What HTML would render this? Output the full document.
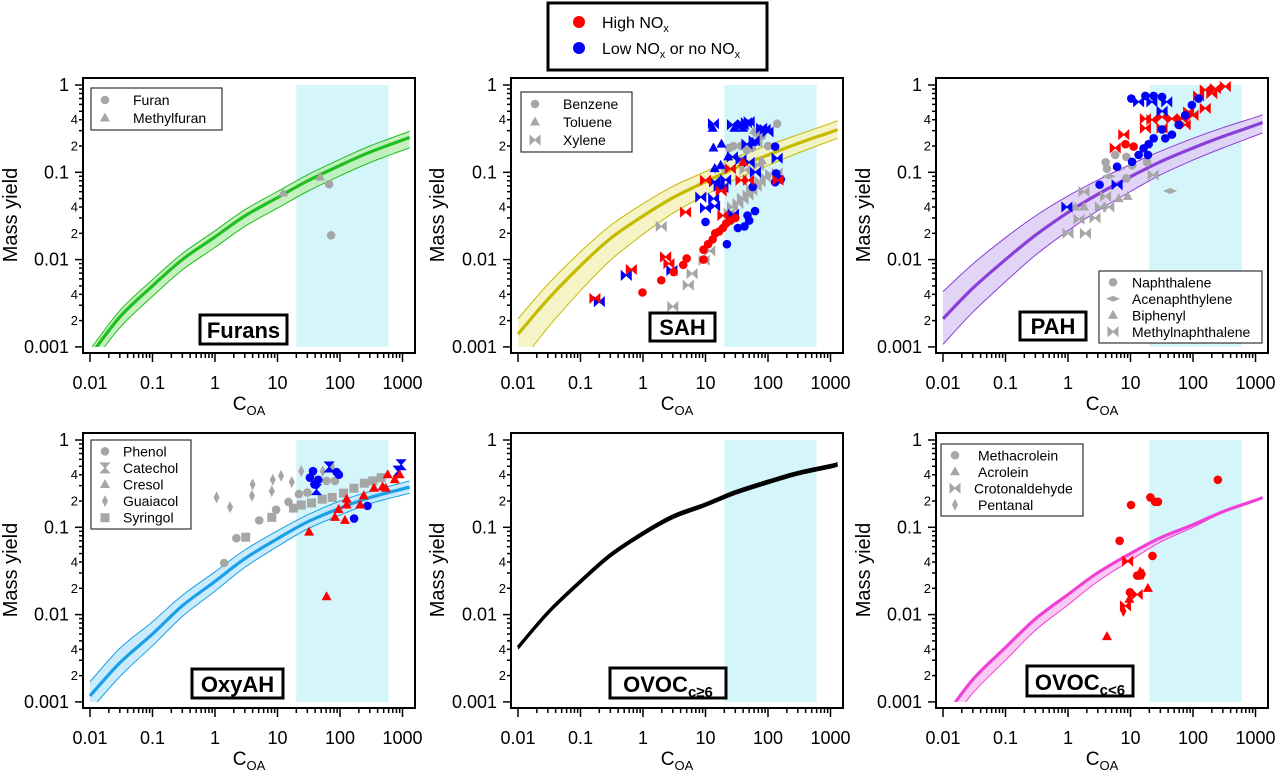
<!DOCTYPE html>
<html><head><meta charset="utf-8"><style>
html,body{margin:0;padding:0;background:#fff;}
svg{display:block;font-family:"Liberation Sans",Arial,sans-serif;}
</style></head><body>
<svg id="chart" width="1278" height="771" viewBox="0 0 1278 771" xmlns="http://www.w3.org/2000/svg">
<g>
<rect x="548" y="3" width="219" height="67" fill="#fff" stroke="#000" stroke-width="3"/>
<circle cx="579" cy="22" r="6" fill="#f00"/>
<text x="602" y="28" font-size="16">High NO<tspan font-size="11" dy="4">x</tspan></text>
<circle cx="579" cy="48" r="6" fill="#00f"/>
<text x="602" y="54" font-size="16">Low NO<tspan font-size="11" dy="4">x</tspan><tspan dy="-4"> or no NO</tspan><tspan font-size="11" dy="4">x</tspan></text>
</g>
</svg>
<script>
// ---- data ----
const curveC = [0.01,0.03,0.1,0.3,1,3,10,30,100,300,1000,1300];
const furanMid = [0.00079,0.0022,0.005,0.01,0.0182,0.0316,0.0513,0.0794,0.12,0.17,0.234,0.251];
const furanLo  = [0.0006,0.00166,0.0038,0.0076,0.0138,0.024,0.0389,0.0603,0.0912,0.129,0.178,0.19];
const furanHi  = [0.00093,0.0026,0.0059,0.0117,0.0214,0.0372,0.0603,0.0933,0.141,0.2,0.275,0.295];
const sahMid = [0.0014,0.0035,0.0085,0.0174,0.0316,0.051,0.078,0.112,0.158,0.214,0.288,0.309];
const sahLo  = [0.0006,0.00166,0.0044,0.0098,0.0195,0.0339,0.055,0.083,0.12,0.166,0.229,0.245];
const sahHi  = [0.0021,0.0052,0.0123,0.0245,0.0437,0.069,0.102,0.148,0.204,0.269,0.363,0.389];
const pahMid = [0.0021,0.0047,0.01,0.019,0.0347,0.056,0.089,0.132,0.19,0.257,0.347,0.372];
const pahLo  = [0.00107,0.0025,0.0056,0.0112,0.0214,0.0363,0.0603,0.0933,0.138,0.19,0.263,0.282];
const pahHi  = [0.0043,0.0089,0.0178,0.0316,0.0537,0.0813,0.123,0.174,0.245,0.324,0.427,0.457];
const oxyMid = [0.00117,0.0028,0.006,0.0126,0.024,0.0437,0.074,0.115,0.166,0.219,0.275,0.288];
const oxyLo  = [0.0008,0.00195,0.0044,0.0095,0.0186,0.0347,0.0603,0.0955,0.138,0.186,0.234,0.245];
const oxyHi  = [0.0017,0.0041,0.0083,0.0166,0.0309,0.055,0.0912,0.138,0.2,0.257,0.324,0.339];
const ovoc6Mid = [0.0042,0.0105,0.024,0.0479,0.0851,0.132,0.182,0.251,0.331,0.417,0.501,0.525];
const ovoc6Lo  = [0.004,0.01,0.0228,0.0455,0.081,0.125,0.173,0.238,0.314,0.396,0.476,0.5];
const ovoc6Hi  = [0.0044,0.011,0.0252,0.0503,0.0894,0.139,0.191,0.264,0.348,0.438,0.526,0.551];
const ovocMid = [0.00063,0.0018,0.0042,0.0089,0.017,0.0302,0.0501,0.0759,0.107,0.151,0.204,0.219];
const ovocLo  = [0.00045,0.00126,0.003,0.0066,0.0129,0.024,0.0417,0.0676,0.1,0.148,0.204,0.219];
const ovocHi  = [0.00063,0.0018,0.0042,0.0089,0.017,0.0302,0.0501,0.0759,0.107,0.151,0.204,0.219];
const bandRange = [20, 600];
const xTickVals = [0.01,0.1,1,10,100,1000];
const xTickLabels = ["0.01","0.1","1","10","100","1000"];
const yTickVals = [1,0.1,0.01,0.001];
const yTickLabels = ["1","0.1","0.01","0.001"];

// points: [C, Y]
const furanCircle = [[67,0.073],[72,0.019]];
const furanTri = [[12.3,0.058],[48,0.088]];

const sahRedCircle = [[0.98,0.0042],[1.96,0.0058],[3.1,0.0072],[4.4,0.0087],[5.0,0.0103],[9.3,0.013],[9.3,0.01],[11,0.015],[13,0.017],[14.3,0.02],[16.5,0.021],[19,0.023],[21.4,0.026],[25,0.028],[30,0.03]];
const sahRedBow = [[0.17,0.0036],[0.65,0.0077],[2.6,0.009],[4.8,0.035],[25,0.11],[10,0.081],[17.8,0.061],[37,0.081],[49,0.081],[145,0.081],[19,0.032],[2.3,0.0107]];
const sahRedTri = [[40,0.13]];
const sahBlueCircle = [[10,0.027],[22,0.015],[33,0.023],[42,0.024],[50,0.028],[47,0.032],[62,0.036],[57,0.068],[130,0.077],[160,0.083],[130,0.197],[135,0.097]];
const sahBlueBow = [[0.2,0.0033],[0.54,0.0066],[2.9,0.0075],[2.3,0.0107],[13.4,0.36],[27,0.35],[40,0.35],[45,0.37],[50,0.38],[79,0.32],[90,0.31],[100,0.29],[60,0.23],[46,0.21],[37,0.14],[50,0.13],[63,0.1],[27,0.15],[8.4,0.052],[10,0.039],[14,0.041],[14,0.078],[16.5,0.069],[19,0.067],[21,0.082],[13.5,0.05],[140,0.145],[28,0.033]];
const sahBlueTri = [[13,0.32],[13.4,0.19],[18,0.21],[29,0.32],[40,0.32],[14,0.11],[17.5,0.12],[23,0.15],[57,0.22]];
const sahGreyCircle = [[140,0.36],[24,0.19],[28,0.2],[37,0.2],[46,0.18],[55,0.19],[65,0.28],[80,0.26],[100,0.2]];
const sahGreyTri = [[37,0.137],[80,0.135],[60,0.3]];
const sahGreyBow = [[1.96,0.024],[6.1,0.0069],[5.3,0.0051],[3.0,0.0029],[9.5,0.0098],[11.7,0.0126],[24,0.034],[27,0.04],[33,0.044],[40,0.05],[48,0.055],[55,0.062],[65,0.069],[75,0.078],[90,0.088],[110,0.095],[140,0.098],[39,0.05],[17,0.11],[43,0.107],[70,0.12],[66,0.22]];

const pahBlueCircle = [[10.3,0.70],[17.3,0.75],[23.5,0.75],[32,0.73],[36,0.245],[46,0.27],[59,0.35],[75,0.45],[96,0.59],[123,0.70],[32,0.31],[23.5,0.245],[19.5,0.21],[16.2,0.188],[13.5,0.158],[19,0.158],[10.6,0.132],[6.1,0.116],[3.2,0.072]];
const pahBlueBow = [[13.5,0.64],[22,0.64],[38,0.64],[0.96,0.040],[6.1,0.072],[32,0.5]];
const pahRedBow = [[7.8,0.27],[5.7,0.19],[17.3,0.32],[22,0.40],[32,0.43],[32,0.32],[17.3,0.41],[46,0.41],[67,0.41],[85,0.49],[157,0.88],[228,0.91],[329,0.96],[157,0.54],[123,0.75],[200,0.8],[100,0.45],[75,0.35]];
const pahRedCircle = [[8.3,0.21],[11.2,0.197]];
const pahGreyCircle = [[4.0,0.13],[5.7,0.158],[8.6,0.15],[10.6,0.12],[18.5,0.13],[8.6,0.085],[4.2,0.11]];
const pahGreyBow = [[1.0,0.02],[1.9,0.02],[1.5,0.029],[2.7,0.03],[1.8,0.06],[3.3,0.04],[4.5,0.04],[23,0.093],[4,0.053]];
const pahGreyTri = [[1.3,0.04],[1.8,0.04],[9.0,0.053],[6.5,0.05]];
const pahGreyDiamond = [[43,0.061],[4.5,0.09],[6.5,0.11]];

const oxyGreyDiamond = [[1.06,0.22],[1.74,0.17],[4.0,0.31],[3.9,0.23],[8.4,0.35],[8.1,0.26],[11.4,0.39],[16.9,0.33],[24,0.44],[37,0.40],[53,0.44],[74,0.50]];
const oxyGreyCircle = [[1.4,0.039],[2.2,0.075],[5.1,0.12],[9.5,0.159],[15,0.195],[22,0.24],[30,0.25],[61,0.34],[83,0.34]];
const oxyGreySquare = [[3.1,0.077],[8.1,0.13],[18,0.166],[24,0.18],[35,0.19],[52,0.21],[75,0.22],[114,0.246],[167,0.28],[245,0.32],[335,0.34],[455,0.37]];
const oxyBlueCircle = [[37,0.44],[45,0.35],[39,0.31],[33,0.37],[88,0.43],[96,0.40],[168,0.126],[275,0.176]];
const oxyBlueHour = [[67,0.49],[42,0.27],[950,0.52],[850,0.44]];
const oxyRedTri = [[32,0.088],[61,0.016],[83,0.13],[95,0.16],[120,0.12],[128,0.18],[128,0.21],[210,0.18],[240,0.23],[350,0.28],[480,0.29],[580,0.40],[750,0.35],[900,0.40],[540,0.28]];

const ovocRedCircle = [[250,0.35],[20.8,0.22],[24.7,0.196],[27.5,0.196],[10.2,0.18],[6.7,0.070],[22.5,0.047],[12.8,0.028],[13.9,0.028],[9.8,0.018]];
const ovocRedTri = [[4.2,0.0056],[14.3,0.031],[19,0.020],[9.6,0.015]];
const ovocRedBow = [[9.0,0.041],[12.8,0.017],[8.3,0.0126]];
const ovocRedDiamond = [[7.7,0.011],[15.8,0.029]];

// ---- rendering ----
const NS = "http://www.w3.org/2000/svg";
const svg = document.getElementById('chart');
function mk(tag, attrs, parent){
  const e = document.createElementNS(NS, tag);
  for (const k in attrs) e.setAttribute(k, attrs[k]);
  (parent||svg).appendChild(e);
  return e;
}
function smooth(pts, start){
  let d = (start ? "M" : "L") + pts[0][0].toFixed(1) + "," + pts[0][1].toFixed(1);
  for (let i = 0; i < pts.length - 1; i++) {
    const p0 = pts[i-1] || pts[i], p1 = pts[i], p2 = pts[i+1], p3 = pts[i+2] || pts[i+1];
    const c1 = [p1[0] + (p2[0]-p0[0])/6, p1[1] + (p2[1]-p0[1])/6];
    const c2 = [p2[0] - (p3[0]-p1[0])/6, p2[1] - (p3[1]-p1[1])/6];
    d += `C${c1[0].toFixed(1)},${c1[1].toFixed(1)} ${c2[0].toFixed(1)},${c2[1].toFixed(1)} ${p2[0].toFixed(1)},${p2[1].toFixed(1)}`;
  }
  return d;
}
const GREY = "#a6a6a6", RED = "#ff0000", BLUE = "#0000ff";

const panels = [
  {id:"furans", fx:83, fy:78, x0:90, y1:85, col:"#1fbf1f", fill:"#bdeeb5", mid:furanMid, lo:furanLo, hi:furanHi,
   title:["Furans",""], tb:[200,315,87,29], ytx:3},
  {id:"sah", fx:511, fy:78, x0:518, y1:85, col:"#c4bb00", fill:"#f5f2bd", mid:sahMid, lo:sahLo, hi:sahHi,
   title:["SAH",""], tb:[650,313,65,28], ytx:430},
  {id:"pah", fx:936, fy:78, x0:943, y1:85, col:"#8a3fd8", fill:"#ddcdf6", mid:pahMid, lo:pahLo, hi:pahHi,
   title:["PAH",""], tb:[1020,312,66,28], ytx:856},
  {id:"oxyah", fx:83, fy:433, x0:90, y1:440, col:"#1a9fe6", fill:"#c0e7fa", mid:oxyMid, lo:oxyLo, hi:oxyHi,
   title:["OxyAH",""], tb:[192,669,91,29], ytx:3},
  {id:"ovoc-c6plus", fx:511, fy:433, x0:518, y1:440, col:"#000000", fill:"#999999", mid:ovoc6Mid, lo:ovoc6Lo, hi:ovoc6Hi,
   title:["OVOC","c≥6"], tb:[610,668,116,30], ytx:430},
  {id:"ovoc-c-lt6", fx:936, fy:433, x0:943, y1:440, col:"#f040d8", fill:"#f8c2f0", mid:ovocMid, lo:ovocLo, hi:ovocHi,
   title:["OVOC","c<6"], tb:[1027,666,106,30], ytx:856}
];
const FW = 332, FH = 275, DEC_X = 62.5, DEC_Y = 87.3;

function marker(g, p, c, y, shape, color, name){
  const X = p.xs(c), Y = p.ys(y);
  let e;
  if (shape === "circle") e = mk("circle", {cx:X, cy:Y, r:4.3, fill:color}, g);
  else if (shape === "tri") e = mk("path", {d:`M${X},${Y-5.5}L${X+5},${Y+3.5}L${X-5},${Y+3.5}Z`, fill:color}, g);
  else if (shape === "bow") e = mk("path", {d:`M${X-5},${Y-4.5}L${X},${Y}L${X-5},${Y+4.5}ZM${X+5},${Y-4.5}L${X},${Y}L${X+5},${Y+4.5}Z`, fill:color, stroke:color, "stroke-width":1}, g);
  else if (shape === "hour") e = mk("path", {d:`M${X-4.5},${Y-5}L${X+4.5},${Y-5}L${X},${Y}ZM${X-4.5},${Y+5}L${X+4.5},${Y+5}L${X},${Y}Z`, fill:color, stroke:color, "stroke-width":1}, g);
  else if (shape === "diamond") e = mk("path", {d:`M${X},${Y-6}L${X+3},${Y}L${X},${Y+6}L${X-3},${Y}Z`, fill:color}, g);
  else if (shape === "square") e = mk("rect", {x:X-4.5, y:Y-4.5, width:9, height:9, fill:color}, g);
  else if (shape === "hdiamond") e = mk("path", {d:`M${X-7},${Y}L${X},${Y-3}L${X+7},${Y}L${X},${Y+3}Z`, fill:color}, g);
  
  
}
function series(p, g, arr, shape, color, name){
  arr.forEach(pt => marker(g, p, pt[0], pt[1], shape, color, name));
}

panels.forEach((p, pi) => {
  p.xs = c => p.x0 + DEC_X * (Math.log10(c) + 2);
  p.ys = v => p.y1 - DEC_Y * Math.log10(v);
  const g = mk("g", {});
  
  
  const clipId = "clip" + pi;
  const cp = mk("clipPath", {id:clipId}, g);
  mk("rect", {x:p.fx, y:p.fy, width:FW, height:p.ys(0.001)-p.fy}, cp);

  const band = mk("rect", {x:p.xs(bandRange[0]), y:p.ys(1), width:p.xs(bandRange[1])-p.xs(bandRange[0]), height:p.ys(0.001)-p.ys(1), fill:"#d4f5fa"}, g);
  
  

  const cg = mk("g", {"clip-path":`url(#${clipId})`}, g);
  const upPts = curveC.map((c,i)=>[p.xs(c), p.ys(p.hi[i])]);
  const dnPts = curveC.map((c,i)=>[p.xs(c), p.ys(p.lo[i])]).reverse();
  const midPts = curveC.map((c,i)=>[p.xs(c), p.ys(p.mid[i])]);
  const area = mk("path", {d: smooth(upPts, true) + smooth(dnPts, false) + "Z", fill:p.fill, "fill-opacity":0.85}, cg);
  
  
  [upPts, dnPts].forEach(arr => {
    const l = mk("path", {d: smooth(arr, true), fill:"none", stroke:p.col, "stroke-width":1}, cg);
    
    
  });
  const ml = mk("path", {d: smooth(midPts, true), fill:"none", stroke:p.col, "stroke-width":3.2, "stroke-linejoin":"round"}, cg);
  
  

  const fr = mk("rect", {x:p.fx, y:p.fy, width:FW, height:FH, fill:"none", stroke:"#000", "stroke-width":2}, g);
  
  

  const yb = p.fy + FH;
  for (let d = -3; d <= 0; d++) {
    for (let m = 1; m <= 9; m++) {
      if (d === 0 && m > 1) break;
      const v = m * Math.pow(10, d);
      const Y = p.ys(v);
      mk("line", {x1:p.fx - (m===1?8:4), x2:p.fx, y1:Y, y2:Y, stroke:"#000", "stroke-width":1.5}, g);
      if (m === 2 || m === 4) {
        const t = mk("text", {x:p.fx-5, y:Y+4.5, "font-size":13, "text-anchor":"end"}, g);
        t.textContent = String(m);
        
        
      }
    }
  }
  yTickVals.forEach((v, i) => {
    const t = mk("text", {x:p.fx-14, y:p.ys(v)+6, "font-size":18, "text-anchor":"end"}, g);
    t.textContent = yTickLabels[i];
    
    
  });
  for (let d = -2; d <= 3; d++) {
    for (let m = 1; m <= 9; m++) {
      const v = m * Math.pow(10, d);
      const X = p.xs(v);
      if (X > p.fx + FW - 2) break;
      mk("line", {x1:X, x2:X, y1:yb, y2:yb + (m===1?9:5), stroke:"#000", "stroke-width":1.5}, g);
    }
  }
  xTickVals.forEach((v, i) => {
    const t = mk("text", {x:p.xs(v), y:yb+36, "font-size":18, "text-anchor":"middle"}, g);
    t.textContent = xTickLabels[i];
    
    
  });
  const xt = mk("text", {x:p.fx + 166, y:yb+57, "font-size":19, "text-anchor":"middle"}, g);
  xt.innerHTML = 'C<tspan font-size="13" dy="5">OA</tspan>';
  
  
  const cy = p.fy + 137;
  const yt = mk("text", {x:p.ytx+8, y:cy, "font-size":20, "text-anchor":"middle", transform:`rotate(-90 ${p.ytx+8} ${cy})`, dy:6}, g);
  yt.textContent = "Mass yield";
  
  

  p.g = g;
});

const [P1,P2,P3,P4,P5,P6] = panels;
series(P1, P1.g, furanCircle, "circle", GREY, "furan-point");
series(P1, P1.g, furanTri, "tri", GREY, "methylfuran-point");

series(P2, P2.g, sahGreyBow, "bow", GREY, "xylene-point");
series(P2, P2.g, sahGreyCircle, "circle", GREY, "benzene-point");
series(P2, P2.g, sahGreyTri, "tri", GREY, "toluene-point");
series(P2, P2.g, sahBlueCircle, "circle", BLUE, "benzene-low-nox-point");
series(P2, P2.g, sahBlueTri, "tri", BLUE, "toluene-low-nox-point");
series(P2, P2.g, sahBlueBow, "bow", BLUE, "xylene-low-nox-point");
series(P2, P2.g, sahRedCircle, "circle", RED, "benzene-high-nox-point");
series(P2, P2.g, sahRedTri, "tri", RED, "toluene-high-nox-point");
series(P2, P2.g, sahRedBow, "bow", RED, "xylene-high-nox-point");

series(P3, P3.g, pahGreyBow, "bow", GREY, "methylnaphthalene-point");
series(P3, P3.g, pahGreyTri, "tri", GREY, "biphenyl-point");
series(P3, P3.g, pahGreyDiamond, "hdiamond", GREY, "acenaphthylene-point");
series(P3, P3.g, pahGreyCircle, "circle", GREY, "naphthalene-point");
series(P3, P3.g, pahRedBow, "bow", RED, "methylnaphthalene-high-nox-point");
series(P3, P3.g, pahRedCircle, "circle", RED, "naphthalene-high-nox-point");
series(P3, P3.g, pahBlueCircle, "circle", BLUE, "naphthalene-low-nox-point");
series(P3, P3.g, pahBlueBow, "bow", BLUE, "methylnaphthalene-low-nox-point");

series(P4, P4.g, oxyGreyDiamond, "diamond", GREY, "guaiacol-point");
series(P4, P4.g, oxyGreyCircle, "circle", GREY, "phenol-point");
series(P4, P4.g, oxyGreySquare, "square", GREY, "syringol-point");
series(P4, P4.g, oxyBlueCircle, "circle", BLUE, "phenol-low-nox-point");
series(P4, P4.g, oxyBlueHour, "hour", BLUE, "catechol-low-nox-point");
series(P4, P4.g, oxyRedTri, "tri", RED, "cresol-high-nox-point");

series(P6, P6.g, ovocRedCircle, "circle", RED, "methacrolein-point");
series(P6, P6.g, ovocRedTri, "tri", RED, "acrolein-point");
series(P6, P6.g, ovocRedBow, "bow", RED, "crotonaldehyde-point");
series(P6, P6.g, ovocRedDiamond, "diamond", RED, "pentanal-point");

panels.forEach(p => {
  const [x,y,w,h] = p.tb;
  const tg = mk("g", {}, p.g);
  
  
  mk("rect", {x:x, y:y, width:w, height:h, fill:"#fff", stroke:"#000", "stroke-width":3}, tg);
  const t = mk("text", {x:x+w/2, y:y+h-6, "font-size":22, "font-weight":"bold", "text-anchor":"middle"}, tg);
  t.textContent = p.title[0];
  if (p.title[1]) {
    const s = mk("tspan", {"font-size":15, dy:5}, t);
    s.textContent = p.title[1];
  }
});

function legend(p, x, y, w, h, items){
  const lg = mk("g", {}, p.g);
  
  
  mk("rect", {x:x, y:y, width:w, height:h, fill:"#fff", stroke:"#333", "stroke-width":1.2}, lg);
  const rowH = (h - 6) / items.length;
  items.forEach((it, i) => {
    const cyy = y + 3 + rowH*(i+0.5);
    const fake = {xs:()=>x+14, ys:()=>cyy};
    marker(lg, fake, 1, 1, it[0], GREY, 'legend-symbol');
    const t = mk("text", {x:x+it[2], y:cyy+5, "font-size":14}, lg);
    t.textContent = it[1];
    
    
  });
}
legend(P1, 91, 88, 131, 42, [["circle","Furan",42],["tri","Methylfuran",42]]);
legend(P2, 521, 92, 111, 60, [["circle","Benzene",42],["tri","Toluene",42],["bow","Xylene",42]]);
legend(P3, 1099, 271, 163, 72, [["circle","Naphthalene",33],["hdiamond","Acenaphthylene",33],["tri","Biphenyl",33],["bow","Methylnaphthalene",33]]);
legend(P4, 91, 440, 100, 89, [["circle","Phenol",32],["hour","Catechol",32],["tri","Cresol",32],["diamond","Guaiacol",32],["square","Syringol",32]]);
legend(P6, 941, 444, 142, 72, [["circle","Methacrolein",37],["tri","Acrolein",37],["bow","Crotonaldehyde",33],["diamond","Pentanal",37]]);
</script>
</body></html>
